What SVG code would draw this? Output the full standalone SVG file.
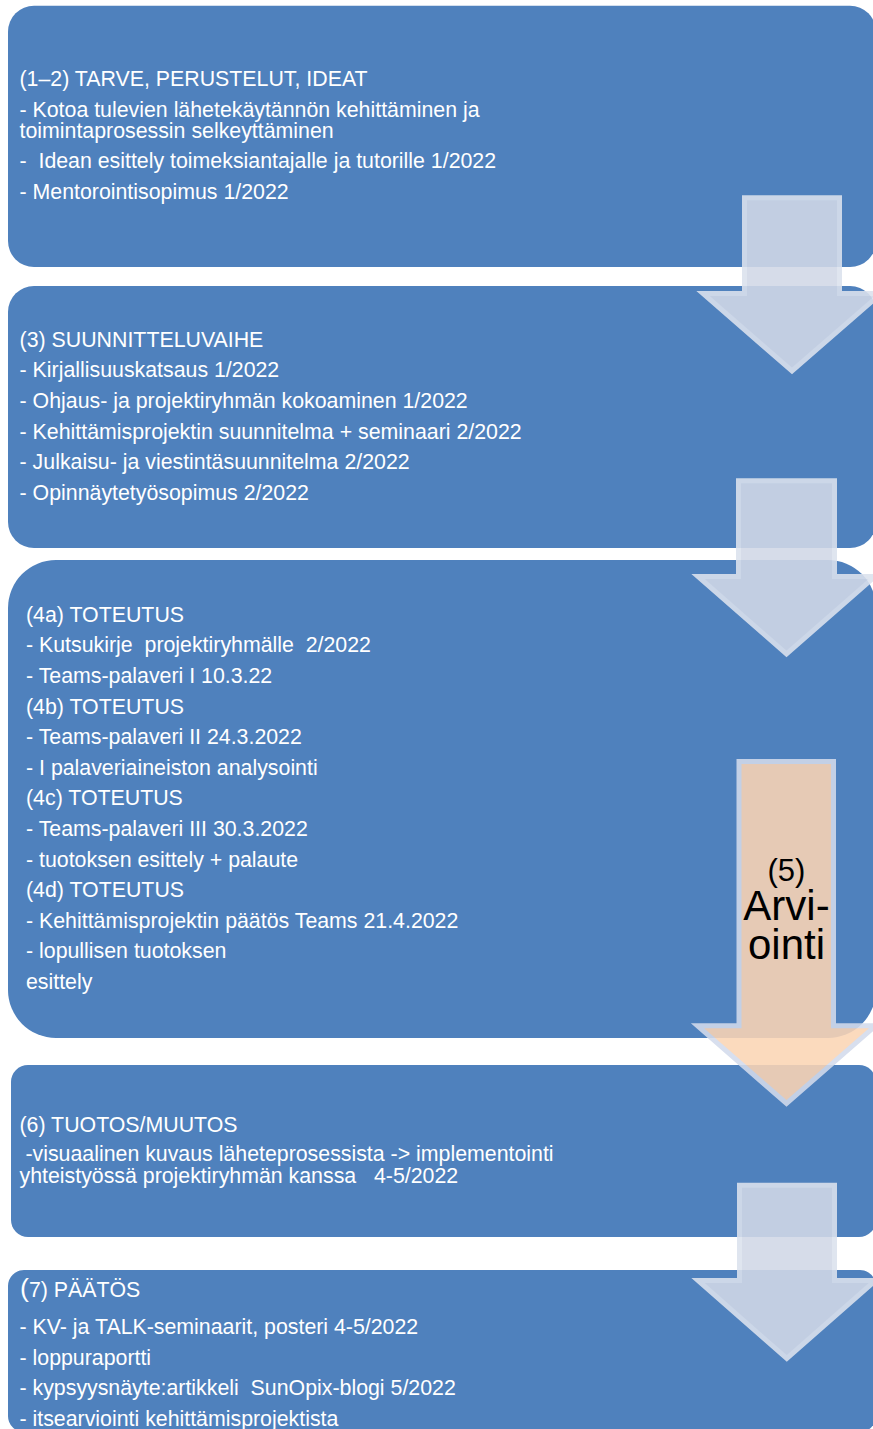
<svg xmlns="http://www.w3.org/2000/svg" width="873" height="1429" viewBox="0 0 873 1429" xml:space="preserve">
<style>
.box{fill:#4F81BD;}
.t{font-family:"Liberation Sans",Arial,sans-serif;font-size:21.33px;fill:#FFFFFF;white-space:pre;}
.arr{fill:#D1D8E7;stroke:#DCE2EE;stroke-width:5;stroke-linejoin:miter;opacity:0.89;}
.arro{fill:#FBD5B5;stroke:#D3DBEC;stroke-width:5;stroke-linejoin:miter;opacity:0.88;}
.lbl{font-family:"Liberation Sans",Arial,sans-serif;fill:#000000;text-anchor:middle;}
</style>
<rect width="873" height="1429" fill="#FFFFFF"/>
<g id="node1">
<rect class="box" x="8" y="5.7" width="868" height="261.3" rx="26"/>
<text class="t" x="19.5" y="86">(1–2) TARVE, PERUSTELUT, IDEAT</text>
<text class="t" x="19.5" y="116.7">- Kotoa tulevien lähetekäytännön kehittäminen ja</text>
<text class="t" x="19.5" y="137.7">toimintaprosessin selkeyttäminen</text>
<text class="t" x="19.5" y="168.3">-  Idean esittely toimeksiantajalle ja tutorille 1/2022</text>
<text class="t" x="19.5" y="199">- Mentorointisopimus 1/2022</text>
</g>
<g id="node2">
<rect class="box" x="8" y="286" width="868" height="262" rx="26"/>
<text class="t" x="19.6" y="346.7">(3) SUUNNITTELUVAIHE</text>
<text class="t" x="19.6" y="377.3">- Kirjallisuuskatsaus 1/2022</text>
<text class="t" x="19.6" y="408">- Ohjaus- ja projektiryhmän kokoaminen 1/2022</text>
<text class="t" x="19.6" y="438.6">- Kehittämisprojektin suunnitelma + seminaari 2/2022</text>
<text class="t" x="19.6" y="469.3">- Julkaisu- ja viestintäsuunnitelma 2/2022</text>
<text class="t" x="19.6" y="500">- Opinnäytetyösopimus 2/2022</text>
</g>
<g id="node3">
<rect class="box" x="8" y="560" width="868" height="478" rx="48"/>
<text class="t" x="26" y="621.7">(4a) TOTEUTUS</text>
<text class="t" x="26" y="652.3">- Kutsukirje  projektiryhmälle  2/2022</text>
<text class="t" x="26" y="682.9">- Teams-palaveri I 10.3.22</text>
<text class="t" x="26" y="713.5">(4b) TOTEUTUS</text>
<text class="t" x="26" y="744.1">- Teams-palaveri II 24.3.2022</text>
<text class="t" x="26" y="774.7">- I palaveriaineiston analysointi</text>
<text class="t" x="26" y="805.3">(4c) TOTEUTUS</text>
<text class="t" x="26" y="835.9">- Teams-palaveri III 30.3.2022</text>
<text class="t" x="26" y="866.5">- tuotoksen esittely + palaute</text>
<text class="t" x="26" y="897.1">(4d) TOTEUTUS</text>
<text class="t" x="26" y="927.7">- Kehittämisprojektin päätös Teams 21.4.2022</text>
<text class="t" x="26" y="958.3">- lopullisen tuotoksen</text>
<text class="t" x="26" y="988.9">esittely</text>
</g>
<g id="node4">
<rect class="box" x="11" y="1065" width="865" height="172" rx="17"/>
<text class="t" x="19.5" y="1131.7">(6) TUOTOS/MUUTOS</text>
<text class="t" x="19.5" y="1161"> -visuaalinen kuvaus läheteprosessista -&gt; implementointi</text>
<text class="t" x="19.5" y="1183.3">yhteistyössä projektiryhmän kanssa   4-5/2022</text>
</g>
<g id="node5">
<rect class="box" x="8" y="1270" width="868" height="162" rx="16"/>
<text class="t" x="20" y="1297.3"><tspan style="font-size:26.7px">(</tspan>7) PÄÄTÖS</text>
<text class="t" x="19.5" y="1334">- KV- ja TALK-seminaarit, posteri 4-5/2022</text>
<text class="t" x="19.5" y="1364.6">- loppuraportti</text>
<text class="t" x="19.5" y="1395.2">- kypsyysnäyte:artikkeli  SunOpix-blogi 5/2022</text>
<text class="t" x="19.5" y="1425.8">- itsearviointi kehittämisprojektista</text>
</g>
<g id="connectors">
<path class="arr" d="M744.5,197.8 H839.5 V293.5 H881 L792,371 L703,293.5 H744.5 Z"/>
<path class="arr" d="M738.5,480.8 H834.5 V576.5 H875 L786.5,654 L698,576.5 H738.5 Z"/>
<path class="arr" d="M739.5,1185.2 H834.5 V1280.5 H875.5 L786.8,1358.5 L698,1280.5 H739.5 Z"/>
</g>
<g id="arviointi">
<path class="arro" d="M739,761.5 H833.5 V1025.8 H875.5 L786.5,1103.5 L697.5,1025.8 H739 Z"/>
<text class="lbl" x="786.5" y="881" style="font-size:31px">(5)</text>
<text class="lbl" x="786.5" y="920" style="font-size:42px">Arvi-</text>
<text class="lbl" x="786.5" y="959" style="font-size:42px">ointi</text>
</g>
</svg>
